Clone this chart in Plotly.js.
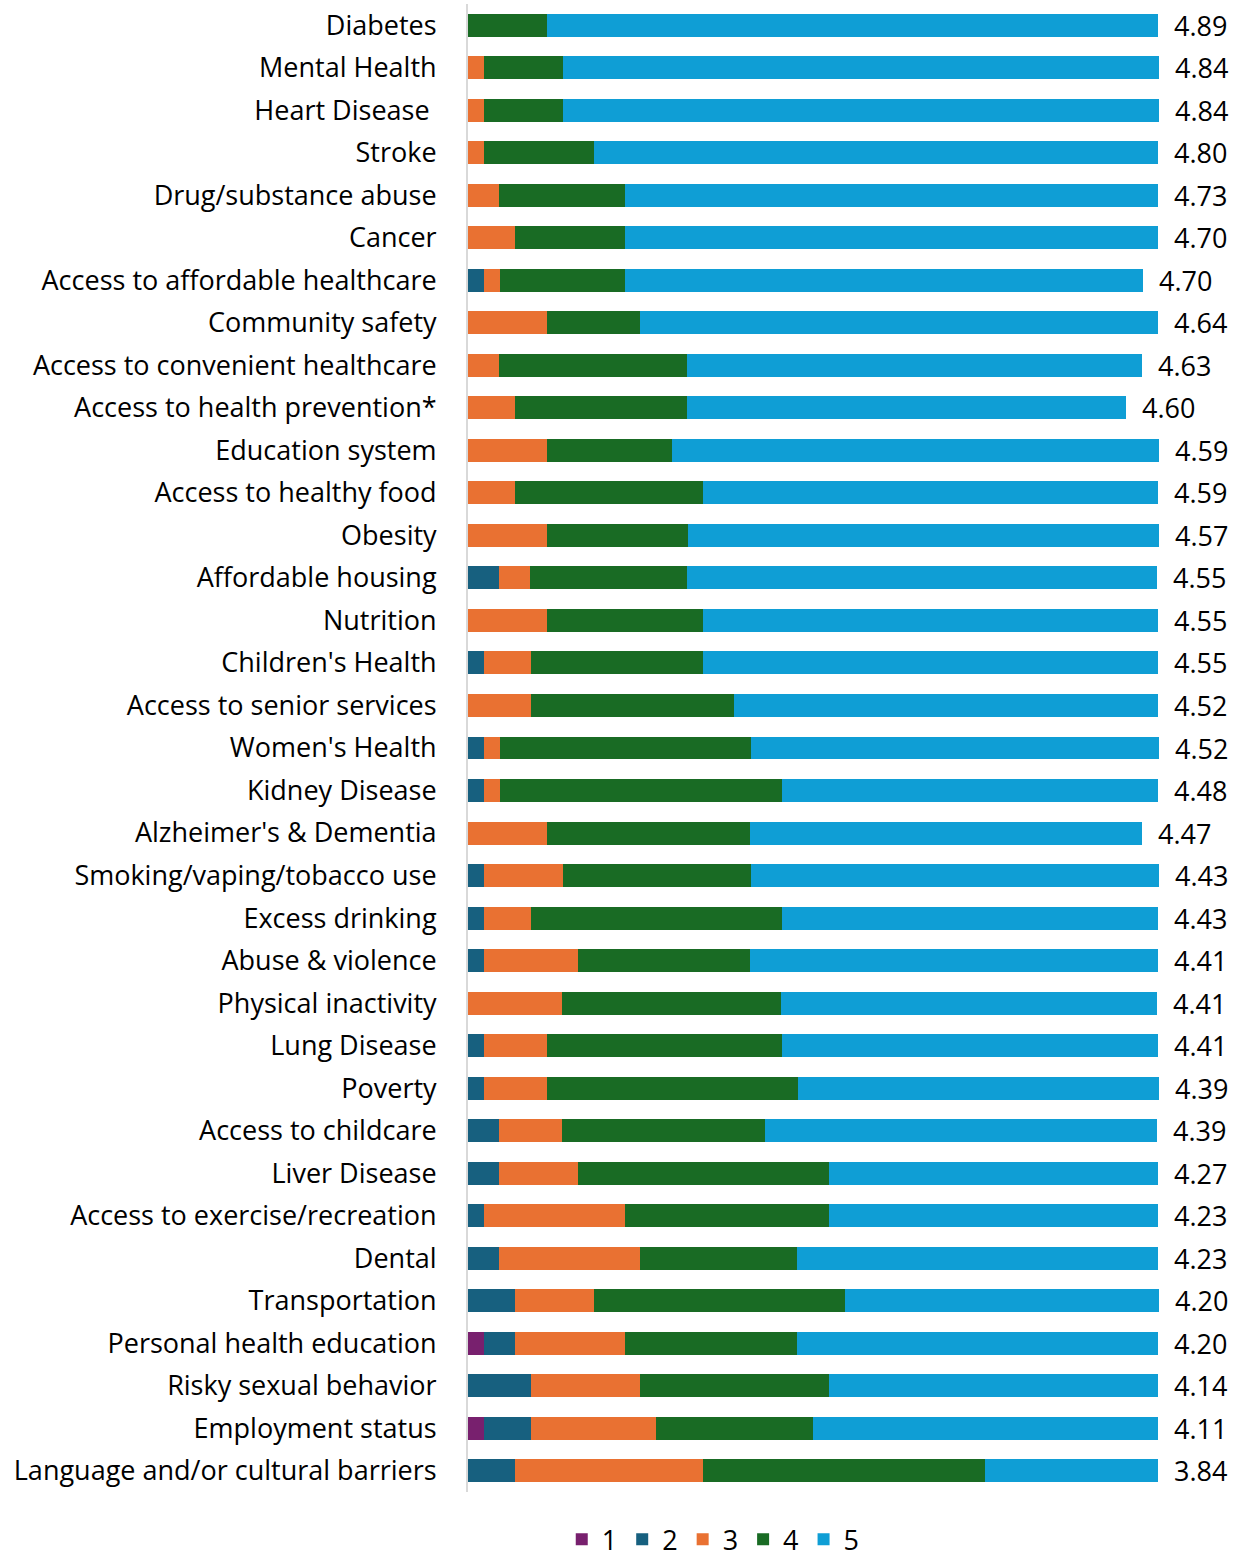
<!DOCTYPE html>
<html>
<head>
<meta charset="utf-8">
<script src="https://cdn.plot.ly/plotly-3.0.1.min.js"></script>
<style>
  html, body { margin: 0; padding: 0; background: white; }
  #chart { width: 1234px; height: 1562px; }
</style>
</head>
<body>
<div id="chart"></div>
<script>
// categories, top to bottom
const categories = [
  'Diabetes', 'Mental Health', 'Heart Disease ', 'Stroke', 'Drug/substance abuse',
  'Cancer', 'Access to affordable healthcare', 'Community safety',
  'Access to convenient healthcare', 'Access to health prevention*', 'Education system',
  'Access to healthy food', 'Obesity', 'Affordable housing', 'Nutrition',
  "Children's Health", 'Access to senior services', "Women's Health", 'Kidney Disease',
  "Alzheimer's & Dementia", 'Smoking/vaping/tobacco use', 'Excess drinking',
  'Abuse & violence', 'Physical inactivity', 'Lung Disease', 'Poverty',
  'Access to childcare', 'Liver Disease', 'Access to exercise/recreation', 'Dental',
  'Transportation', 'Personal health education', 'Risky sexual behavior',
  'Employment status', 'Language and/or cultural barriers'
];

// percent of respondents giving each rating (1 = lowest, 5 = highest)
const rating1 = [0, 0, 0, 0, 0, 0, 0, 0, 0, 0, 0, 0, 0, 0, 0, 0, 0, 0, 0, 0,
  0, 0, 0, 0, 0, 0, 0, 0, 0, 0, 0, 2.3, 0, 2.3, 0];
const rating2 = [0, 0, 0, 0, 0, 0, 2.3, 0, 0, 0, 0, 0, 0, 4.5, 0, 2.3, 0, 2.3, 2.3, 0,
  2.3, 2.3, 2.3, 0, 2.3, 2.3, 4.5, 4.5, 2.3, 4.5, 6.8, 4.5, 9.1, 6.8, 6.8];
const rating3 = [0, 2.3, 2.3, 2.3, 4.5, 6.8, 2.3, 11.4, 4.5, 6.8, 11.4, 6.8, 11.4, 4.5, 11.4,
  6.8, 9.1, 2.3, 2.3, 11.4, 11.4, 6.8, 13.6, 13.6, 9.1, 9.1, 9.1, 11.4, 20.5, 20.5,
  11.4, 15.9, 15.9, 18.2, 27.3];
const rating4 = [11.4, 11.4, 11.4, 15.9, 18.2, 15.9, 18.2, 13.6, 27.3, 25.0, 18.2, 27.3, 20.5,
  22.7, 22.7, 25.0, 29.5, 36.4, 40.9, 29.5, 27.3, 36.4, 25.0, 31.8, 34.1, 36.4, 29.5,
  36.4, 29.5, 22.7, 36.4, 25.0, 27.3, 22.7, 40.9];
const rating5 = [88.6, 86.4, 86.4, 81.8, 77.3, 77.3, 75.0, 75.0, 65.9, 63.6, 70.5, 65.9, 68.2,
  68.2, 65.9, 65.9, 61.4, 59.1, 54.5, 56.8, 59.1, 54.5, 59.1, 54.5, 54.5, 52.3, 56.8,
  47.7, 47.7, 52.3, 45.5, 52.3, 47.7, 50.0, 25.0];

// mean score labels
const means = ['4.89', '4.84', '4.84', '4.80', '4.73', '4.70', '4.70', '4.64', '4.63', '4.60',
  '4.59', '4.59', '4.57', '4.55', '4.55', '4.55', '4.52', '4.52', '4.48', '4.47', '4.43',
  '4.43', '4.41', '4.41', '4.41', '4.39', '4.39', '4.27', '4.23', '4.23', '4.20', '4.20',
  '4.14', '4.11', '3.84'];

const seriesNames = ['1', '2', '3', '4', '5'];
const seriesValues = [rating1, rating2, rating3, rating4, rating5];
const seriesColors = ['#78206E', '#17607F', '#E97132', '#196B24', '#0F9ED5'];

const fontFamily = '"Open Sans", "Noto Sans", sans-serif';

const data = seriesValues.map((vals, i) => ({
  type: 'bar',
  orientation: 'h',
  name: seriesNames[i],
  x: vals,
  y: categories,
  marker: { color: seriesColors[i], line: { width: 0 } },
  hoverinfo: 'x+y+name'
}));

// mean labels sit just past the end of each stack
const totals = categories.map((c, k) => seriesValues.reduce((s, v) => s + v[k], 0));
const annotations = categories.map((c, k) => ({
  x: totals[k],
  y: c,
  xref: 'x',
  yref: 'y',
  text: means[k],
  showarrow: false,
  xanchor: 'left',
  xshift: 14,
  font: { family: fontFamily, size: 27, color: '#000' }
}));

const layout = {
  width: 1234,
  height: 1562,
  paper_bgcolor: 'white',
  plot_bgcolor: 'white',
  barmode: 'stack',
  bargap: 0.46,
  font: { family: fontFamily, color: '#000' },
  margin: { l: 468, r: 74, t: 4, b: 70 },
  xaxis: {
    range: [0, 100.3],
    visible: false,
    fixedrange: true
  },
  yaxis: {
    type: 'category',
    autorange: 'reversed',
    showline: true,
    linecolor: '#d9d9d9',
    linewidth: 2,
    ticks: '',
    ticklabelstandoff: 24,
    tickfont: { family: fontFamily, size: 27, color: '#000' },
    showgrid: false,
    zeroline: false
  },
  showlegend: true,
  legend: {
    orientation: 'h',
    x: 0.578,
    xref: 'container',
    xanchor: 'center',
    yref: 'container',
    yanchor: 'top',
    y: 0.03,
    font: { family: fontFamily, size: 27, color: '#000' },
    traceorder: 'normal'
  },
  annotations: annotations
};

Plotly.newPlot('chart', data, layout, { displayModeBar: false });
</script>
</body>
</html>
